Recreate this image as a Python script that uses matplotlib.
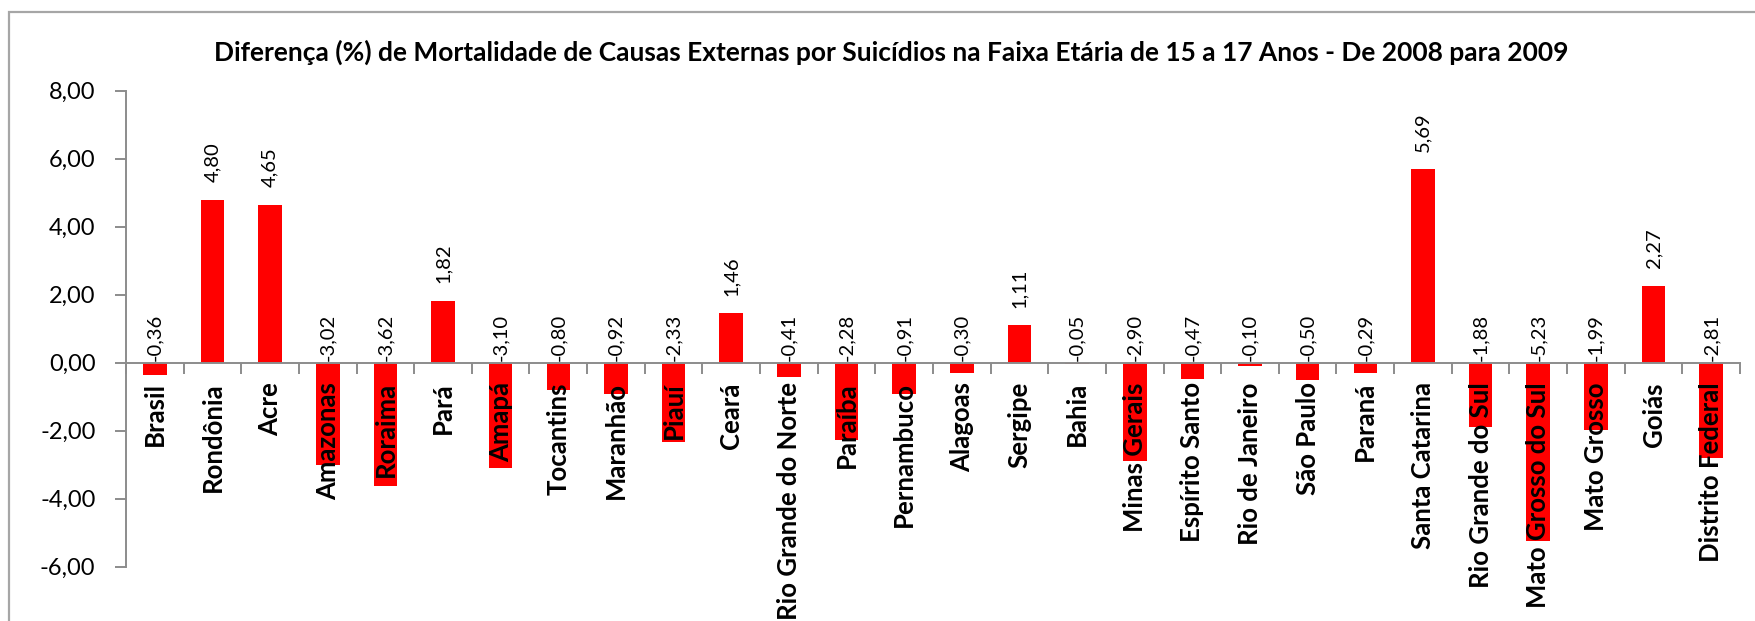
import matplotlib
matplotlib.use("Agg")
import matplotlib.pyplot as plt
from matplotlib.patches import Rectangle
from matplotlib.ticker import FixedLocator, FuncFormatter

plt.rcParams["font.family"] = ["Lato", "DejaVu Sans"]

title = ("Diferença (%) de Mortalidade de Causas Externas por Suicídios "
         "na Faixa Etária de 15 a 17 Anos - De 2008 para 2009")

regions = [
    "Brasil", "Rondônia", "Acre", "Amazonas", "Roraima", "Pará", "Amapá",
    "Tocantins", "Maranhão", "Piauí", "Ceará", "Rio Grande do Norte",
    "Paraíba", "Pernambuco", "Alagoas", "Sergipe", "Bahia", "Minas Gerais",
    "Espírito Santo", "Rio de Janeiro", "São Paulo", "Paraná",
    "Santa Catarina", "Rio Grande do Sul", "Mato Grosso do Sul",
    "Mato Grosso", "Goiás", "Distrito Federal",
]
diff_pct = [
    -0.36, 4.80, 4.65, -3.02, -3.62, 1.82, -3.10,
    -0.80, -0.92, -2.33, 1.46, -0.41,
    -2.28, -0.91, -0.30, 1.11, -0.05, -2.90,
    -0.47, -0.10, -0.50, -0.29,
    5.69, -1.88, -5.23,
    -1.99, 2.27, -2.81,
]
y_ticks = [-6, -4, -2, 0, 2, 4, 6, 8]

W, H = 1756, 621
fig = plt.figure(figsize=(W / 100, H / 100), dpi=100)
fig.patch.set_facecolor("white")

# outer chart border
fig.patches.append(Rectangle((9 / W, -0.1), 1.2, 1 - 12 / H + 0.1,
                             transform=fig.transFigure, fill=False,
                             edgecolor="#a6a6a6", linewidth=1.6))

ax = fig.add_axes([126 / W, 1 - 566.7 / H, (1740 - 126) / W, (566.7 - 90.7) / H])
ax.set_facecolor("none")
ax.set_axisbelow(False)

n = len(regions)
xs = list(range(n))
ax.bar(xs, diff_pct, width=0.41, color="#ff0000", zorder=2)

ax.set_xlim(-0.5, n - 0.5)
ax.set_ylim(-6, 8)

axis_gray = "#8c8c8c"
for side in ("top", "right"):
    ax.spines[side].set_visible(False)
ax.spines["left"].set_color(axis_gray)
ax.spines["left"].set_linewidth(1.4)
ax.spines["bottom"].set_position(("data", 0))
ax.spines["bottom"].set_color(axis_gray)
ax.spines["bottom"].set_linewidth(1.4)
ax.spines["bottom"].set_zorder(3)

# y axis
ax.yaxis.set_major_locator(FixedLocator(y_ticks))
ax.yaxis.set_major_formatter(FuncFormatter(lambda v, p: f"{v:.2f}".replace(".", ",")))
ax.tick_params(axis="y", direction="out", length=8, width=1.4, color=axis_gray,
               pad=14, labelsize=17, labelcolor="black")

# x axis: boundary ticks, labels at category centres
ax.xaxis.set_major_locator(FixedLocator([i + 0.5 for i in range(-1, n)]))
ax.xaxis.set_major_formatter(FuncFormatter(lambda v, p: ""))
ax.xaxis.set_minor_locator(FixedLocator(xs))
ax.set_xticklabels(regions, minor=True, rotation=90, fontsize=18.5,
                   fontweight="bold", va="top", ha="center")
ax.tick_params(axis="x", which="major", direction="out", length=8, width=1.4,
               color=axis_gray)
ax.tick_params(axis="x", which="minor", length=0, pad=14, labelcolor="black")

# value labels
for x, v in zip(xs, diff_pct):
    txt = f"{v:.2f}".replace(".", ",")
    if v >= 0:
        ax.annotate(txt, (x, v), xytext=(0, 12.5), textcoords="offset points",
                    rotation=90, ha="center", va="bottom", fontsize=14.5,
                    color="black", zorder=4)
    else:
        ax.annotate(txt, (x, 0), xytext=(0, 1.2), textcoords="offset points",
                    rotation=90, ha="center", va="bottom", fontsize=14.5,
                    color="black", zorder=4)

fig.text(891 / W, 1 - 52 / H, title, ha="center", va="center",
         fontsize=19, fontweight="bold", color="black")

fig.savefig("out.png", dpi=100)
